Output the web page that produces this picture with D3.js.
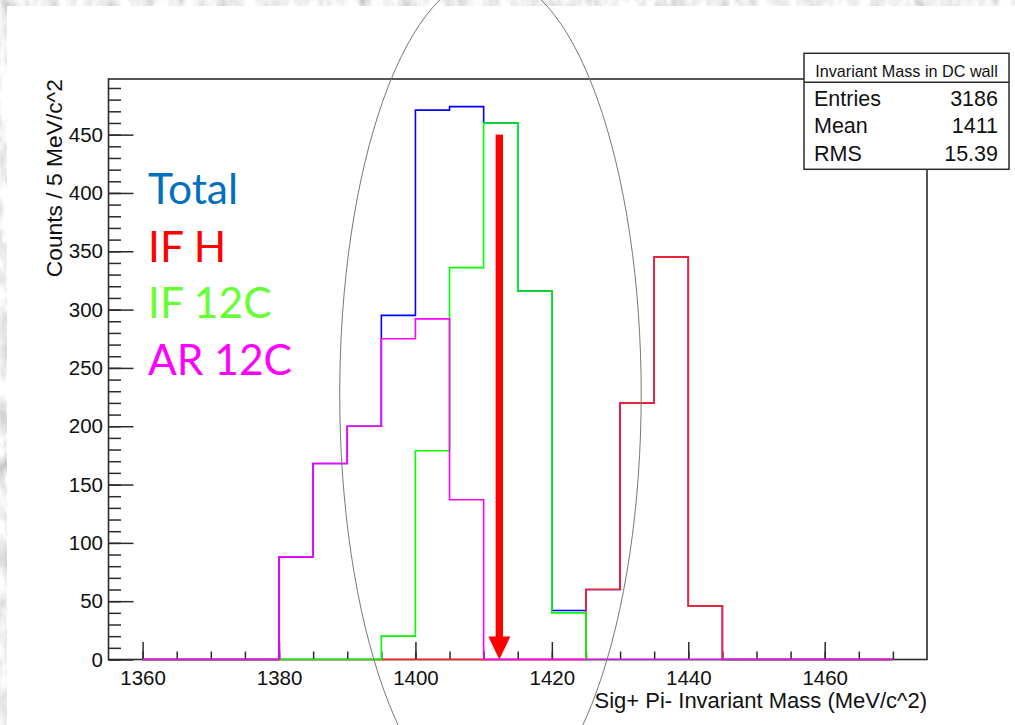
<!DOCTYPE html>
<html>
<head>
<meta charset="utf-8">
<script src="https://cdn.jsdelivr.net/npm/d3@7"></script>
<style>
  html, body { margin: 0; padding: 0; background: #fff; }
  svg { display: block; }
  .tick text { font-family: "Liberation Sans", Arial, sans-serif; font-size: 20.5px; fill: #111; }
</style>
</head>
<body>
<svg id="chart"></svg>
<script>
// histogram bins: lower edges, 5 MeV wide
const binEdges = d3.range(1360, 1470, 5);
const totalCounts = [0, 0, 0, 0, 88, 168, 200, 295, 471, 474, 460, 316, 42, 60, 220, 345, 46, 0, 0, 0, 0, 0];
const ifHCounts   = [0, 0, 0, 0, 0, 0, 0, 0, 0, 0, 0, 0, 0, 60, 220, 345, 46, 0, 0, 0, 0, 0];
const if12CCounts = [0, 0, 0, 0, 0, 0, 0, 20, 179, 336, 460, 316, 40, 0, 0, 0, 0, 0, 0, 0, 0, 0];
const ar12CCounts = [0, 0, 0, 0, 88, 168, 200, 275, 292, 137, 0, 0, 0, 0, 0, 0, 0, 0, 0, 0, 0, 0];

const xMajorTicks = [1360, 1380, 1400, 1420, 1440, 1460];
const yMajorTicks = [0, 50, 100, 150, 200, 250, 300, 350, 400, 450];

const legendNames = ["Total", "IF H", "IF 12C", "AR 12C"];
const statsTitle = "Invariant Mass in DC wall";
const statsLabels = ["Entries", "Mean", "RMS"];
const statsValues = ["3186", "1411", "15.39"];

// annotations in data units
const arrowX = 1412.3, arrowTop = 450, arrowBottom = 0;
const ellipseCx = 1411.0, ellipseCy = 227.5, ellipseRx = 22.1, ellipseRy = 359;

const width = 1015, height = 725;
const svg = d3.select("#chart")
    .attr("width", width)
    .attr("height", height);

// textured backdrop
const defs = svg.append("defs");
const f = defs.append("filter").attr("id", "marble")
    .attr("x", 0).attr("y", 0).attr("width", "100%").attr("height", "100%");
f.append("feTurbulence")
    .attr("type", "fractalNoise")
    .attr("baseFrequency", "0.07 0.035")
    .attr("numOctaves", 4)
    .attr("seed", 3);
f.append("feColorMatrix")
    .attr("type", "matrix")
    .attr("values", "0.45 0.45 0.45 0 0.2  0.45 0.45 0.45 0 0.2  0.45 0.45 0.45 0 0.2  0 0 0 0 1");

svg.append("rect")
    .attr("width", width).attr("height", height)
    .attr("filter", "url(#marble)");
svg.append("rect")
    .attr("x", 7).attr("y", 6)
    .attr("width", width - 7).attr("height", height - 6)
    .attr("fill", "#fff");

const xScale = d3.scaleLinear()
    .domain([1355, 1475])
    .range([108.5, 927]);

const yScale = d3.scaleLinear()
    .domain([0, 497.7])
    .range([659.5, 79]);

// frame
svg.append("rect")
    .attr("x", xScale(1355)).attr("y", yScale(497.7))
    .attr("width", xScale(1475) - xScale(1355))
    .attr("height", yScale(0) - yScale(497.7))
    .attr("fill", "none")
    .attr("stroke", "#2b2b2b")
    .attr("stroke-width", 1.6);

// y axis
const yMajor = d3.axisLeft(yScale)
    .tickValues(yMajorTicks)
    .tickSize(-25)
    .tickPadding(5.5)
    .tickFormat(d3.format("d"));
const yMinor = d3.axisLeft(yScale)
    .tickValues(d3.range(0, 491, 10))
    .tickSize(-12.5)
    .tickFormat("");

svg.append("g")
    .attr("transform", "translate(" + xScale(1355) + ",0)")
    .call(yMinor)
    .call(g => g.select(".domain").remove());
svg.append("g")
    .attr("transform", "translate(" + xScale(1355) + ",0)")
    .call(yMajor)
    .call(g => g.select(".domain").remove());

// x axis
const xMajor = d3.axisBottom(xScale)
    .tickValues(xMajorTicks)
    .tickSize(-17.5)
    .tickPadding(10.5)
    .tickFormat(d3.format("d"));
const xMinor = d3.axisBottom(xScale)
    .tickValues(d3.range(1360, 1471, 5))
    .tickSize(-8)
    .tickFormat("");

svg.append("g")
    .attr("transform", "translate(0," + yScale(0) + ")")
    .call(xMinor)
    .call(g => g.select(".domain").remove());
svg.append("g")
    .attr("transform", "translate(0," + yScale(0) + ")")
    .call(xMajor)
    .call(g => g.select(".domain").remove());

svg.selectAll(".tick line")
    .attr("stroke", "#2b2b2b")
    .attr("stroke-width", 1.5);

// axis titles
svg.append("text")
    .attr("transform", "translate(62," + yScale(497.7) + ") rotate(-90)")
    .attr("text-anchor", "end")
    .attr("font-family", "Liberation Sans, Arial, sans-serif")
    .attr("font-size", 22.8)
    .attr("fill", "#111")
    .text("Counts / 5 MeV/c^2");

svg.append("text")
    .attr("x", xScale(1475))
    .attr("y", 708)
    .attr("text-anchor", "end")
    .attr("font-family", "Liberation Sans, Arial, sans-serif")
    .attr("font-size", 22)
    .attr("fill", "#111")
    .text("Sig+ Pi- Invariant Mass (MeV/c^2)");

// step outline of a histogram
function stepPoints(counts) {
    const pts = [[binEdges[0], 0]];
    counts.forEach(function (c, i) {
        pts.push([binEdges[i], c]);
        pts.push([binEdges[i] + 5, c]);
    });
    pts.push([binEdges[binEdges.length - 1] + 5, 0]);
    return pts;
}

const line = d3.line()
    .x(d => xScale(d[0]))
    .y(d => yScale(d[1]));

const series = [
    { counts: totalCounts, color: "#0000ff" },
    { counts: ifHCounts,   color: "#ff2020" },
    { counts: if12CCounts, color: "#00ff00" },
    { counts: ar12CCounts, color: "#ff00ff" }
];

svg.selectAll("path.hist")
    .data(series)
    .enter()
    .append("path")
    .attr("class", "hist")
    .attr("d", d => line(stepPoints(d.counts)))
    .attr("fill", "none")
    .attr("stroke", d => d.color)
    .attr("stroke-width", 1.6);

// ellipse
svg.append("ellipse")
    .attr("cx", xScale(ellipseCx))
    .attr("cy", yScale(ellipseCy))
    .attr("rx", xScale(ellipseCx + ellipseRx) - xScale(ellipseCx))
    .attr("ry", yScale(0) - yScale(ellipseRy))
    .attr("fill", "none")
    .attr("stroke", "#777")
    .attr("stroke-width", 1);

// red arrow
const ax = xScale(arrowX);
const headTop = yScale(arrowBottom) - 23;
svg.append("rect")
    .attr("x", ax - 3.7)
    .attr("y", yScale(arrowTop))
    .attr("width", 7.4)
    .attr("height", headTop - yScale(arrowTop) + 1)
    .attr("fill", "#ff0000");
svg.append("path")
    .attr("d", "M" + (ax - 11) + "," + headTop + "L" + (ax + 11) + "," + headTop + "L" + ax + "," + yScale(arrowBottom) + "Z")
    .attr("fill", "#ff0000");

// legend text
const legendColors = ["#0070c0", "#ff0000", "#66ff33", "#ff00ff"];
const legendBase = [204.3, 261.7, 318.3, 375];
svg.selectAll("text.legend")
    .data(legendNames)
    .enter()
    .append("text")
    .attr("class", "legend")
    .attr("x", 148)
    .attr("y", (d, i) => legendBase[i])
    .attr("font-family", "Lato, sans-serif")
    .attr("font-size", 42.5)
    .attr("fill", (d, i) => legendColors[i])
    .text(d => d);

// stats box
const box = svg.append("g");
box.append("rect")
    .attr("x", 804).attr("y", 53.3)
    .attr("width", 205).attr("height", 116)
    .attr("fill", "#fff")
    .attr("stroke", "#2b2b2b")
    .attr("stroke-width", 1.5);
box.append("line")
    .attr("x1", 804).attr("x2", 1009)
    .attr("y1", 82.3).attr("y2", 82.3)
    .attr("stroke", "#2b2b2b")
    .attr("stroke-width", 1.5);
box.append("text")
    .attr("x", 906.5).attr("y", 76.7)
    .attr("text-anchor", "middle")
    .attr("font-family", "Liberation Sans, Arial, sans-serif")
    .attr("font-size", 16.2)
    .attr("fill", "#111")
    .text(statsTitle);
const rowBase = [105.6, 132.6, 160.6];
statsLabels.forEach(function (lab, i) {
    box.append("text")
        .attr("x", 814).attr("y", rowBase[i])
        .attr("font-family", "Liberation Sans, Arial, sans-serif")
        .attr("font-size", 21.5)
        .attr("fill", "#111")
        .text(lab);
    box.append("text")
        .attr("x", 998).attr("y", rowBase[i])
        .attr("text-anchor", "end")
        .attr("font-family", "Liberation Sans, Arial, sans-serif")
        .attr("font-size", 21.5)
        .attr("fill", "#111")
        .text(statsValues[i]);
});
</script>
</body>
</html>
